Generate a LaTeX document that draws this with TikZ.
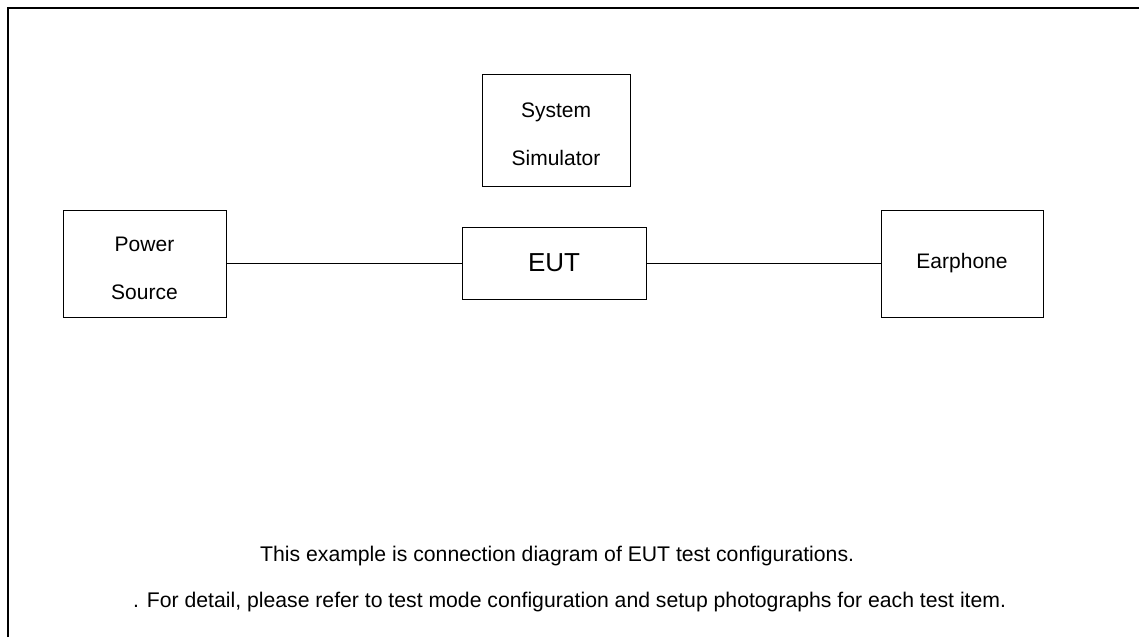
\documentclass[tikz,border=0pt]{standalone}
\usepackage{fontspec}
\setmainfont{Liberation Sans}
\begin{document}
\begin{tikzpicture}[x=1pt,y=-1pt,
  box/.style={draw, line width=1pt, inner sep=0pt, align=center,
    font=\fontsize{21}{48}\selectfont},
  twoline/.style={text height=71pt, text depth=0pt},
  wire/.style={line width=1pt},
  note/.style={anchor=base west, inner sep=0pt, font=\fontsize{21.2}{25}\selectfont}]
\useasboundingbox (0,0) rectangle (1139,637);
% frame
\draw[line width=2pt] (7.7,637) -- (7.7,8.3) -- (1139,8.3);
% boxes
\node[box, twoline, minimum width=148pt, minimum height=112pt] (sim) at (556,130) {System\\Simulator};
\node[box, minimum width=184pt, minimum height=72pt, font=\fontsize{26}{32}\selectfont] (eut) at (554,263) {EUT};
\node[box, twoline, minimum width=163pt, minimum height=107pt] (pwr) at (144.5,263.5) {Power\\Source};
\node[box, minimum width=162pt, minimum height=107pt] (ear) at (962,263.5) {Earphone};
% connectors
\draw[wire] (pwr.east |- eut.west) -- (eut.west);
\draw[wire] (eut.east) -- (ear.west |- eut.east);
% notes
\node[note] (n1) at (260,561) {This example is connection diagram of EUT test configurations.};
\node[note] (n2) at (133,607) {. For detail, please refer to test mode configuration and setup photographs for each test item.};
\end{tikzpicture}
\end{document}
